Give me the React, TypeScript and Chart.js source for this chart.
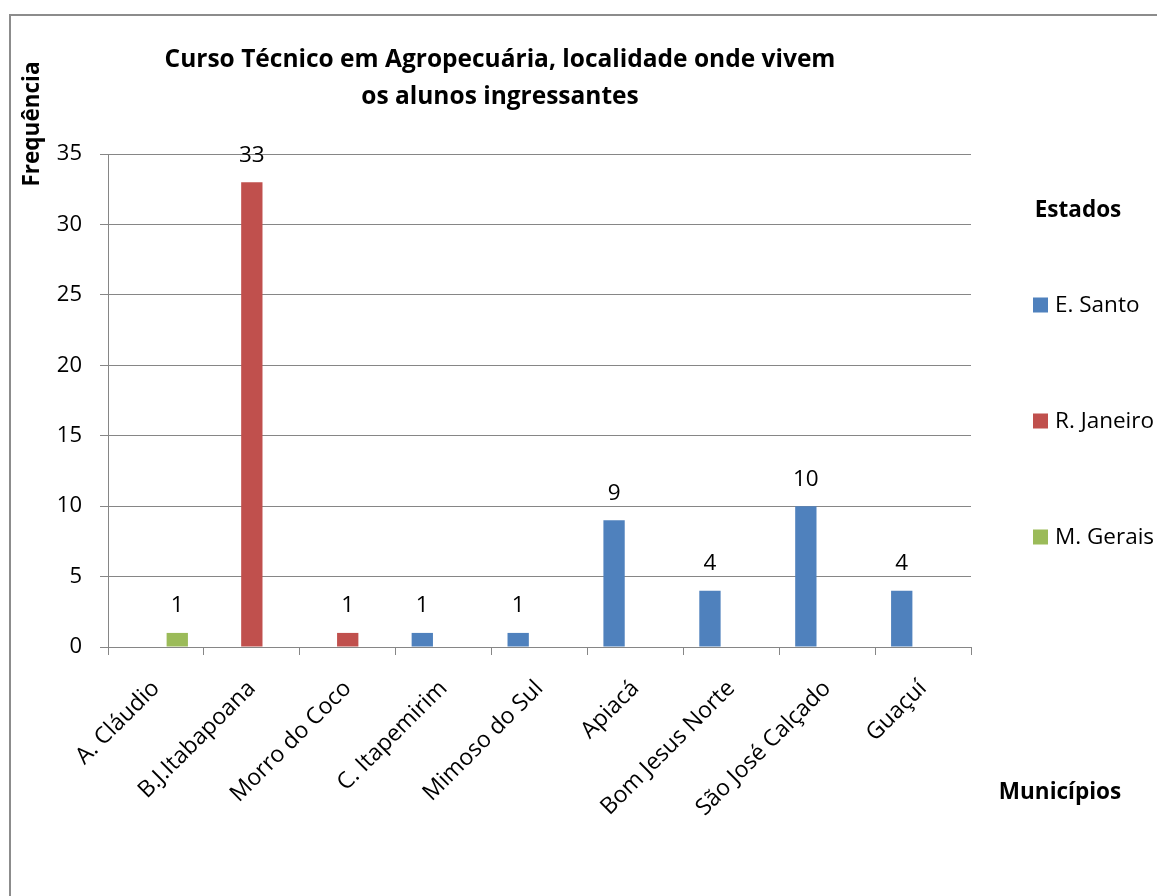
import React, { useEffect, useRef } from "react";
import { Chart, registerables } from "chart.js";

Chart.register(...registerables);

const municipios = [
  "A. Cláudio",
  "B.J.Itabapoana",
  "Morro do Coco",
  "C. Itapemirim",
  "Mimoso do Sul",
  "Apiacá",
  "Bom Jesus Norte",
  "São José Calçado",
  "Guaçuí",
];

const eSanto = [null, null, null, 1, 1, 9, 4, 10, 4];
const rJaneiro = [null, 33, 1, null, null, null, null, null, null];
const mGerais = [1, null, null, null, null, null, null, null, null];

const estados = ["E. Santo", "R. Janeiro", "M. Gerais"];
const cores = ["#4F81BD", "#C0504D", "#9BBB59"];

const titulo = ["Curso Técnico em Agropecuária, localidade onde vivem", "os alunos ingressantes"];
const tituloY = "Frequência";
const tituloX = "Municípios";
const tituloLegenda = "Estados";

const FONT = "'Open Sans', sans-serif";

const decoracao = {
  id: "decoracao",
  afterDraw(chart: any) {
    const ctx = chart.ctx as CanvasRenderingContext2D;
    ctx.save();

    // moldura externa
    ctx.strokeStyle = "#8c8c8c";
    ctx.lineWidth = 2;
    ctx.strokeRect(10, 15, 1300, 1000);

    ctx.fillStyle = "#000";
    ctx.textAlign = "center";
    ctx.textBaseline = "middle";

    // título
    ctx.font = `bold 24.5px ${FONT}`;
    ctx.fillText(titulo[0], 500, 60);
    ctx.fillText(titulo[1], 500, 97);

    // título do eixo Y
    ctx.save();
    ctx.translate(33, 124);
    ctx.rotate(-Math.PI / 2);
    ctx.font = `bold 22.5px ${FONT}`;
    ctx.fillText(tituloY, 0, 0);
    ctx.restore();

    // título do eixo X
    ctx.font = `bold 22.5px ${FONT}`;
    ctx.fillText(tituloX, 1060, 793);

    // legenda
    ctx.fillText(tituloLegenda, 1078, 211);
    const ys = [305, 421, 537];
    ctx.textAlign = "left";
    ctx.font = `22.5px ${FONT}`;
    estados.forEach((nome, i) => {
      ctx.fillStyle = cores[i];
      ctx.fillRect(1033, ys[i] - 7.5, 15, 15);
      ctx.fillStyle = "#000";
      ctx.fillText(nome, 1055, ys[i] + 1);
    });

    // rótulos de valor
    ctx.textAlign = "center";
    ctx.font = `22.5px ${FONT}`;
    chart.data.datasets.forEach((ds: any, di: number) => {
      const meta = chart.getDatasetMeta(di);
      meta.data.forEach((bar: any, i: number) => {
        const v = ds.data[i];
        if (v === null || v === undefined) return;
        ctx.fillText(String(v), bar.x, bar.y - 27);
      });
    });

    ctx.restore();
  },
};

export default function App() {
  const ref = useRef<HTMLCanvasElement | null>(null);

  useEffect(() => {
    if (!ref.current) return;
    const grid = "#868686";
    const chart = new Chart(ref.current, {
      type: "bar",
      data: {
        labels: municipios,
        datasets: [
          { label: estados[0], data: eSanto, backgroundColor: cores[0] },
          { label: estados[1], data: rJaneiro, backgroundColor: cores[1] },
          { label: estados[2], data: mGerais, backgroundColor: cores[2] },
        ],
      },
      options: {
        responsive: false,
        animation: false,
        devicePixelRatio: 1,
        layout: { padding: { left: 0, top: 154, right: 186, bottom: 0 } },
        datasets: { bar: { categoryPercentage: 0.667, barPercentage: 1 } },
        plugins: {
          legend: { display: false },
          title: { display: false },
          tooltip: { enabled: false },
        },
        scales: {
          x: {
            afterFit: (s: any) => {
              s.height = 249;
            },
            grid: {
              display: true,
              drawOnChartArea: false,
              drawTicks: true,
              tickLength: 8,
              color: grid,
              offset: true,
            },
            border: { display: true, color: grid, width: 1 },
            ticks: {
              color: "#000",
              font: { family: FONT, size: 23 },
              minRotation: 45,
              maxRotation: 45,
              autoSkip: false,
              padding: 20,
            },
          },
          y: {
            min: 0,
            max: 35,
            afterFit: (s: any) => {
              s.width = 108;
            },
            grid: { color: grid, tickLength: 8, drawTicks: true },
            border: { display: true, color: grid, width: 1 },
            ticks: {
              stepSize: 5,
              color: "#000",
              font: { family: FONT, size: 22 },
              padding: 18,
            },
          },
        },
      },
      plugins: [decoracao],
    });
    return () => chart.destroy();
  }, []);

  return (
    <div style={{ position: "absolute", left: 0, top: 0, width: 1157, height: 896, background: "#fff" }}>
      <canvas ref={ref} width={1157} height={896} />
    </div>
  );
}
